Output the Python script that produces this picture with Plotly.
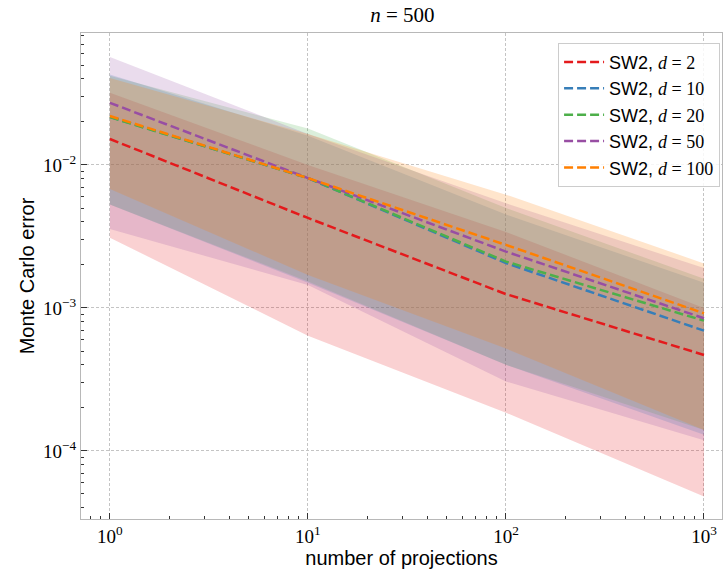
import plotly.graph_objects as go

# ---- data ----
n_projections = [1, 10, 100, 1000]
dims = [2, 10, 20, 50, 100]
colors = ["#e41a1c", "#377eb8", "#4daf4a", "#984ea3", "#ff7f00"]

mean_d2 = [0.0152, 0.00426, 0.00125, 0.000469]
upper_d2 = [0.032, 0.0100, 0.0034, 0.00100]
lower_d2 = [0.0031, 0.00064, 0.000185, 0.000048]

mean_d10 = [0.0217, 0.0081, 0.00206, 0.000694]
upper_d10 = [0.043, 0.0160, 0.0045, 0.0015]
lower_d10 = [0.0053, 0.0015, 0.00040, 0.00013]

mean_d20 = [0.0216, 0.0081, 0.00211, 0.000815]
upper_d20 = [0.042, 0.0180, 0.0050, 0.0016]
lower_d20 = [0.0053, 0.00153, 0.00040, 0.00014]

mean_d50 = [0.0272, 0.0081, 0.00248, 0.000847]
upper_d50 = [0.057, 0.0165, 0.0054, 0.0019]
lower_d50 = [0.00356, 0.00145, 0.000306, 0.000119]

mean_d100 = [0.0220, 0.0081, 0.00276, 0.000918]
upper_d100 = [0.0406, 0.0165, 0.0062, 0.00205]
lower_d100 = [0.0068, 0.0017, 0.00052, 0.00014]

means = [mean_d2, mean_d10, mean_d20, mean_d50, mean_d100]
uppers = [upper_d2, upper_d10, upper_d20, upper_d50, upper_d100]
lowers = [lower_d2, lower_d10, lower_d20, lower_d50, lower_d100]

x_tickvals = [1, 10, 100, 1000]
x_ticktext = ["10<sup>0</sup>", "10<sup>1</sup>", "10<sup>2</sup>", "10<sup>3</sup>"]
y_tickvals = [1e-4, 1e-3, 1e-2]
y_ticktext = ["10<sup>\u22124</sup>", "10<sup>\u22123</sup>", "10<sup>\u22122</sup>"]

x_minor = [m * 10 ** e for e in range(-1, 4) for m in range(2, 10)]
y_minor = [m * 10.0 ** e for e in range(-5, -1) for m in range(2, 10)]


def rgba(hex_color, a):
    h = hex_color.lstrip("#")
    r, g, b = int(h[0:2], 16), int(h[2:4], 16), int(h[4:6], 16)
    return f"rgba({r},{g},{b},{a})"


fig = go.Figure()

# bands
for c, up, lo in zip(colors, uppers, lowers):
    fig.add_trace(go.Scatter(
        x=n_projections + n_projections[::-1],
        y=up + lo[::-1],
        fill="toself",
        fillcolor=rgba(c, 0.2),
        line=dict(width=0),
        mode="lines",
        hoverinfo="skip",
        showlegend=False,
    ))

# lines
for d, c, m in zip(dims, colors, means):
    fig.add_trace(go.Scatter(
        x=n_projections,
        y=m,
        mode="lines",
        line=dict(color=c, width=2.5, dash="9px,4px"),
        name=f"SW2, <span style=\"font-family:'Liberation Serif'\"><i>d</i> = {d}</span>",
    ))

axis_common = dict(
    type="log",
    showline=True,
    linecolor="#b8b8b8",
    linewidth=1.2,
    mirror=True,
    ticks="inside",
    ticklen=6,
    tickcolor="#333",
    tickwidth=1,
    showgrid=True,
    gridcolor="#c4c4c4",
    griddash="3px,2px",
    gridwidth=0.9,
    zeroline=False,
    automargin=False,
    tickfont=dict(family="Liberation Serif", size=19, color="black"),
)

fig.update_xaxes(
    **axis_common,
    range=[-0.146, 3.091],
    tickvals=x_tickvals,
    ticktext=x_ticktext,
    minor=dict(ticks="inside", ticklen=3, tickcolor="#333", tickvals=x_minor, showgrid=False),
    title=dict(text="number of projections", font=dict(family="Liberation Sans", size=20, color="black"), standoff=4),
)
fig.update_yaxes(
    **axis_common,
    range=[-4.476, -1.077],
    tickvals=y_tickvals,
    ticktext=y_ticktext,
    minor=dict(ticks="inside", ticklen=3, tickcolor="#333", tickvals=y_minor, showgrid=False),
    title=dict(text="Monte Carlo error", font=dict(family="Liberation Sans", size=20, color="black"), standoff=2),
)

fig.update_layout(
    width=725,
    height=571,
    margin=dict(l=81, r=3, t=33, b=52),
    paper_bgcolor="white",
    plot_bgcolor="white",
    title=dict(
        text="<i>n</i> = 500",
        font=dict(family="Liberation Serif", size=21, color="black"),
        x=0.555, xanchor="center", y=0.974, yanchor="middle",
    ),
    legend=dict(
        x=0.997, y=0.98, xanchor="right", yanchor="top",
        bgcolor="rgba(255,255,255,0.85)",
        bordercolor="#cccccc",
        borderwidth=1,
        font=dict(family="Liberation Sans", size=18, color="black"),
        tracegroupgap=0,
        itemwidth=40,
    ),
    showlegend=True,
)

fig.write_html(
    "out.html",
    config={"displayModeBar": False},
    post_script="document.body.style.margin='0';document.body.style.overflow='hidden';",
)
